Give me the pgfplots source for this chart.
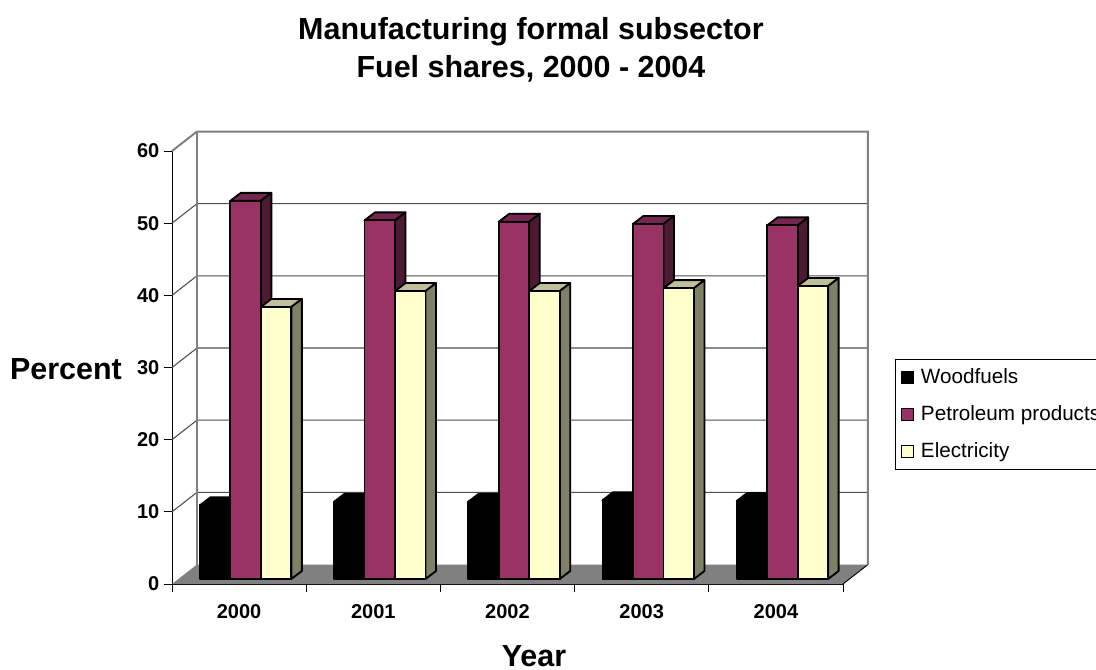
\documentclass[border=0pt]{standalone}
\usepackage{fontspec}
\setmainfont{Liberation Sans}
\usepackage{pgfplots}
\usepackage{pgfplotstable}
\pgfplotsset{compat=1.18}
\definecolor{wallgray}{HTML}{808080}
\definecolor{gridgray}{HTML}{4D4D4D}
\definecolor{plumfront}{HTML}{993366}
\definecolor{plumside}{HTML}{4D1A33}
\definecolor{plumtop}{HTML}{732650}
\definecolor{creamfront}{HTML}{FFFFCC}
\definecolor{creamside}{HTML}{808066}
\definecolor{creamtop}{HTML}{BFBF99}

\pgfplotstableread{
row woodfuels petroleum electricity
0 10.2 52.4 37.7
1 10.7 49.7 39.9
2 10.7 49.5 39.9
3 10.9 49.2 40.3
4 10.8 49.0 40.6
}\shares

% one bar as three faces; 134.2 px per year, 7.2167 px per percent
\newcommand{\cube}[6]{%
  \pgfplotstablegetelem{#1}{#2}\of\shares
  \pgfmathsetmacro{\xa}{2000+#1+#3/134.2}
  \pgfmathsetmacro{\xb}{\xa+30.5/134.2}
  \pgfmathsetmacro{\xc}{\xb+10.5/134.2}
  \pgfmathsetmacro{\xd}{\xa+10.5/134.2}
  \pgfmathsetmacro{\yb}{0.693+\pgfplotsretval}
  \pgfmathsetmacro{\yc}{\yb+1.108}
  \addplot[forget plot,fill=#6,draw=black,line width=1.4pt,line join=round] coordinates {(\xa,\yb) (\xb,\yb) (\xc,\yc) (\xd,\yc)} --cycle;
  \addplot[forget plot,fill=#5,draw=black,line width=1.4pt,line join=round] coordinates {(\xb,0.693) (\xc,1.801) (\xc,\yc) (\xb,\yb)} --cycle;
  \addplot[forget plot,fill=#4,draw=black,line width=1.4pt,line join=round] coordinates {(\xa,0.693) (\xb,0.693) (\xb,\yb) (\xa,\yb)} --cycle;
}

\begin{document}
\begin{tikzpicture}
\useasboundingbox (-129pt,-63.75pt) rectangle (693pt,438pt);
\begin{axis}[
    scale only axis,
    width=503.25pt,
    height=324.75pt,
    xmin=1999.5, xmax=2004.5,
    ymin=0, ymax=60,
    clip=false,
    axis x line*=bottom,
    axis y line*=left,
    axis line style={draw=black,line width=0.7pt,-},
    tick style={draw=black,line width=0.7pt},
    tick align=outside,
    major tick length=6pt,
    xtick={1999.5,2000.5,2001.5,2002.5,2003.5,2004.5},
    xticklabels={2000,2001,2002,2003,2004},
    x tick label as interval,
    xticklabel style={yshift=-6pt},
    ytick={0,10,20,30,40,50,60},
    /pgf/number format/assume math mode=true,
    ticklabel style={font=\fontsize{15}{18}\selectfont\bfseries},
    title={Manufacturing formal subsector\\Fuel shares, 2000 - 2004},
    title style={align=center,font=\fontsize{22.85}{28}\selectfont\bfseries,
      at={(axis description cs:0.535,1.215)},anchor=center},
    xlabel={Year},
    xlabel style={font=\fontsize{22.85}{24}\selectfont\bfseries,
      at={(axis description cs:0.5395,-0.1665)},anchor=center},
    ylabel={Percent},
    ylabel style={font=\fontsize{22.85}{24}\selectfont\bfseries,rotate=-90,
      at={(axis description cs:-0.158,0.497)},anchor=center},
    legend style={
      at={(axis description cs:1.0780,0.5205)},anchor=north west,
      draw=black,line width=0.7pt,fill=white,
      font=\fontsize{15.5}{18}\selectfont,
      row sep=11pt,column sep=3pt,inner xsep=4pt,inner ysep=5.3pt,
    },
    legend cell align=left,
    legend image code/.code={\draw[#1,line width=0.9pt] (0pt,-4.5pt) rectangle (9pt,4.5pt);},
  ]
  % walls and floor
  \addplot[forget plot,draw=none,fill=wallgray] coordinates {(1999.5,0) (1999.6863,2.702) (2004.6863,2.702) (2004.5,0)} --cycle;
  \addplot[forget plot,draw=black,line width=0.7pt] coordinates {(2004.5,0) (2004.6863,2.702)};
  \addplot[forget plot,draw=gridgray,line width=0.8pt] coordinates {(1999.5,10) (1999.6863,12.702) (2004.6863,12.702)};
  \addplot[forget plot,draw=gridgray,line width=0.8pt] coordinates {(1999.5,20) (1999.6863,22.702) (2004.6863,22.702)};
  \addplot[forget plot,draw=gridgray,line width=0.8pt] coordinates {(1999.5,30) (1999.6863,32.702) (2004.6863,32.702)};
  \addplot[forget plot,draw=gridgray,line width=0.8pt] coordinates {(1999.5,40) (1999.6863,42.702) (2004.6863,42.702)};
  \addplot[forget plot,draw=gridgray,line width=0.8pt] coordinates {(1999.5,50) (1999.6863,52.702) (2004.6863,52.702)};
  \addplot[forget plot,draw=wallgray,line width=1.5pt] coordinates {(1999.5,60) (1999.6863,62.702) (2004.6863,62.702) (2004.6863,2.702)};
  \addplot[forget plot,draw=wallgray,line width=1.5pt] coordinates {(1999.6863,2.702) (1999.6863,62.702)};

  % bars, left to right
  \pgfplotsinvokeforeach{0,1,2,3,4}{
    \cube{#1}{woodfuels}{-39.25}{black}{black}{black}
    \cube{#1}{petroleum}{-8.75}{plumfront}{plumside}{plumtop}
    \cube{#1}{electricity}{21.75}{creamfront}{creamside}{creamtop}
  }

  \addlegendimage{fill=black,draw=black}
  \addlegendentry{Woodfuels}
  \addlegendimage{fill=plumfront,draw=black}
  \addlegendentry{Petroleum products}
  \addlegendimage{fill=creamfront,draw=black}
  \addlegendentry{Electricity}
\end{axis}
\end{tikzpicture}
\end{document}
